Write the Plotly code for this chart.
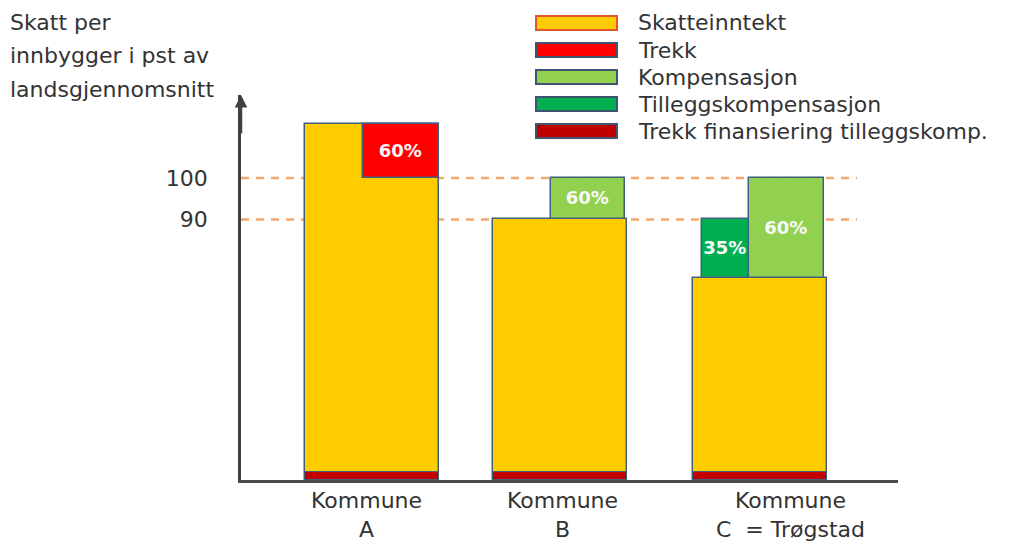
import plotly.graph_objects as go

# ---------------- data ----------------
kommuner = ["Kommune A", "Kommune B", "Kommune C"]
kommune_labels = ["Kommune<br>A", "Kommune<br>B", "Kommune<br>C\u00a0 = Trøgstad"]

axis_floor = 27.2            # bottom of the (truncated) value axis
landsgjennomsnitt = 100
skatteinntekt = [113, 90, 76]
trekk = [13, None, None]                 # from 100 and up
kompensasjon = [None, 10, 24]            # from own tax level up to 100
tilleggskompensasjon = [None, None, 14]  # from own tax level up to 90
trekk_finansiering = [2, 2, 2]

trekk_text = ["60%", "", ""]
kompensasjon_text = ["", "60%", "60%"]
tillegg_text = ["", "", "35%"]

ref_levels = [100, 90]
ytick_text = ["100", "90"]

series_names = ["Skatteinntekt", "Trekk", "Kompensasjon",
                "Tilleggskompensasjon", "Trekk finansiering tilleggskomp."]
series_colors = ["#FFCC00", "#FF0000", "#92D050", "#00B050", "#C00000"]

y_title_lines = ["Skatt per", "innbygger i pst av", "landsgjennomsnitt"]

# ---------------- layout constants (pixels) ----------------
W, H = 1023, 545
PL, PR, PT, PB = 241, 898, 95, 480
FONT = "DejaVu Sans"
TXT = "#333333"
OUTLINE = "#41607F"


def px_x(px):
    return (px - PL) / (PR - PL)


def px_y(py):
    return (PB - py) / (PB - PT)


# bar geometry (category units, spacing 1 = 194 px)
yellow_offset = [-0.345, -0.376, -0.345]
yellow_width = [0.691, 0.691, 0.691]
trekk_offset = [-0.046, 0, 0]
trekk_width = [0.392, 0, 0]
komp_offset = [0, -0.077, -0.057]
komp_width = [0, 0.381, 0.387]
till_offset = [0, 0, -0.299]
till_width = [0, 0, 0.242]

label_font = dict(family=FONT, size=18, color="#F8F8F8", weight="bold")
text_opts = dict(textposition="inside", insidetextanchor="middle",
                 constraintext="none", textangle=0, textfont=label_font)

fig = go.Figure()

fig.add_trace(go.Bar(
    x=kommuner, y=[v - axis_floor for v in skatteinntekt], base=axis_floor,
    offset=yellow_offset, width=yellow_width, name=series_names[0],
    marker=dict(color=series_colors[0], line=dict(color=OUTLINE, width=1.5)),
    showlegend=False, hoverinfo="skip"))

fig.add_trace(go.Bar(
    x=kommuner, y=trekk, base=landsgjennomsnitt,
    offset=trekk_offset, width=trekk_width, name=series_names[1],
    text=trekk_text, **text_opts,
    marker=dict(color=series_colors[1], line=dict(color=OUTLINE, width=1.5)),
    showlegend=False, hoverinfo="skip"))

fig.add_trace(go.Bar(
    x=kommuner, y=kompensasjon, base=[None, skatteinntekt[1], skatteinntekt[2]],
    offset=komp_offset, width=komp_width, name=series_names[2],
    text=kompensasjon_text, **text_opts,
    marker=dict(color=series_colors[2], line=dict(color=OUTLINE, width=1.5)),
    showlegend=False, hoverinfo="skip"))

fig.add_trace(go.Bar(
    x=kommuner, y=tilleggskompensasjon, base=[None, None, skatteinntekt[2]],
    offset=till_offset, width=till_width, name=series_names[3],
    text=tillegg_text, **text_opts,
    marker=dict(color=series_colors[3], line=dict(color=OUTLINE, width=1.5)),
    showlegend=False, hoverinfo="skip"))

fig.add_trace(go.Bar(
    x=kommuner, y=trekk_finansiering, base=axis_floor,
    offset=yellow_offset, width=yellow_width, name=series_names[4],
    marker=dict(color=series_colors[4], line=dict(color=OUTLINE, width=1)),
    showlegend=False, hoverinfo="skip"))

shapes = []
# dashed reference lines
for lvl in ref_levels:
    shapes.append(dict(type="line", xref="x domain", yref="y",
                       x0=0, x1=px_x(857), y0=lvl, y1=lvl, layer="below",
                       line=dict(color="#F4A870", width=2.5, dash="8px,7px")))

annotations = []
# custom legend
for i, (nm, col) in enumerate(zip(series_names, series_colors)):
    cy = 23 + 27 * i
    border = "#E2562A" if i == 0 else "#3F5470"
    shapes.append(dict(type="rect", xref="paper", yref="paper",
                       x0=px_x(536), x1=px_x(617), y0=px_y(cy - 7), y1=px_y(cy + 7),
                       fillcolor=col, line=dict(color=border, width=2)))
    annotations.append(dict(xref="paper", yref="paper", x=px_x(636), y=px_y(cy),
                            xanchor="left", yanchor="middle", text=nm, showarrow=False,
                            font=dict(family=FONT, size=22, color=TXT)))

# y-axis title
for i, line in enumerate(y_title_lines):
    annotations.append(dict(xref="paper", yref="paper", x=px_x(8), y=px_y(22 + 33.5 * i),
                            xanchor="left", yanchor="middle", text=line, showarrow=False,
                            font=dict(family=FONT, size=22, color=TXT)))

# category labels
label_shift = [-5, -4, 30]
for k, lab, sh in zip(kommuner, kommune_labels, label_shift):
    annotations.append(dict(xref="x", yref="paper", x=k, y=px_y(486), xshift=sh,
                            xanchor="center", yanchor="top", text=lab, showarrow=False,
                            font=dict(family=FONT, size=22, color=TXT)))

# axis arrow head
annotations.append(dict(xref="x domain", yref="y domain", x=0, y=1, ax=0, ay=40,
                        axref="pixel", ayref="pixel", text="", showarrow=True,
                        arrowhead=2, arrowsize=1, arrowwidth=2.5, arrowcolor="#404040"))

fig.update_layout(
    width=W, height=H,
    margin=dict(l=PL, r=W - PR, t=PT, b=H - PB, autoexpand=False),
    paper_bgcolor="white", plot_bgcolor="white",
    barmode="overlay", bargap=0,
    shapes=shapes, annotations=annotations,
    font=dict(family=FONT, color=TXT),
    xaxis=dict(type="category", range=[-0.675, 2.711], showticklabels=False,
               showline=True, linecolor="#4a4a4a", linewidth=3,
               showgrid=False, zeroline=False, ticks=""),
    yaxis=dict(range=[axis_floor, 120], tickvals=ref_levels, ticktext=ytick_text,
               tickfont=dict(family=FONT, size=22, color=TXT),
               ticks="", ticklabelstandoff=26,
               showline=True, linecolor="#404040", linewidth=2.5,
               showgrid=False, zeroline=False),
)

fig.write_html("out.html", config={"displayModeBar": False},
               post_script="document.body.style.margin='0';document.body.style.overflow='hidden';")
